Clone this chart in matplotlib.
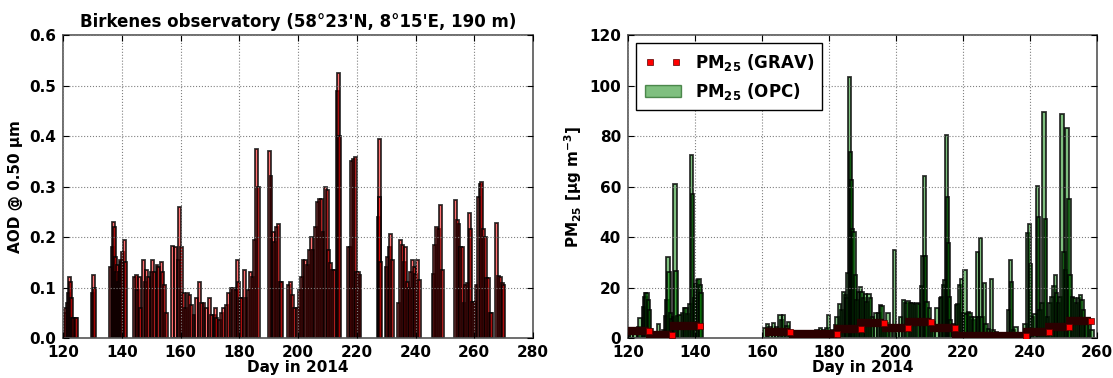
import numpy as np
import matplotlib
matplotlib.use("Agg")
import matplotlib.pyplot as plt

plt.rcParams["font.family"] = "DejaVu Sans"
plt.rcParams["font.weight"] = "bold"
plt.rcParams["axes.labelweight"] = "bold"
plt.rcParams["mathtext.fontset"] = "custom"
plt.rcParams["mathtext.rm"] = "DejaVu Sans:bold"
plt.rcParams["mathtext.it"] = "DejaVu Sans:bold"
plt.rcParams["mathtext.bf"] = "DejaVu Sans:bold"

# AOD at 500 nm, Birkenes (day of year, value)
aod_day = [120.7, 121.0, 121.4, 121.8, 122.2, 122.5, 122.9, 123.3, 123.7, 124.2, 124.6,
           130.1, 130.5, 130.8,
           136.3, 136.7, 137.1, 137.4, 137.8, 138.2, 138.5, 139.0, 139.3, 139.6, 140.0, 140.4, 140.8, 141.2,
           144.2, 144.9, 145.4, 146.0, 146.5, 147.3, 148.0, 148.5, 149.2, 150.0, 150.6, 151.3, 152.0, 152.6,
           153.4, 153.9, 154.7, 155.3,
           157.3, 158.3, 159.3, 159.8, 160.4, 161.0, 161.6, 162.4, 163.0, 163.8, 164.6, 165.5, 166.4, 167.2,
           168.0, 168.9, 169.8, 170.6, 171.5, 171.9, 172.4, 173.2, 173.9, 174.7, 175.5, 176.4, 177.2, 178.1,
           178.7, 179.3, 179.8, 180.4, 180.9, 181.7, 182.3, 183.0, 183.8, 184.5, 185.1, 185.9, 186.4,
           190.2, 190.8, 191.5, 192.0, 192.8, 193.4, 194.0, 194.3,
           196.8, 197.5, 198.2, 198.9, 199.7, 200.5, 201.2, 201.7, 202.5, 203.2, 203.9, 204.5, 205.1, 205.9,
           206.6, 207.3, 208.0, 208.5, 209.3, 209.9, 210.4, 211.1, 211.8, 212.3,
           213.4, 213.7, 214.0,
           217.2, 217.8, 218.3, 218.9, 219.5, 220.0, 220.6, 221.1,
           227.3, 227.6, 227.9, 228.2,
           230.2, 230.6, 231.2, 231.5, 232.1,
           234.3, 234.9, 235.5, 236.1, 236.6, 237.2, 237.8, 238.3, 238.9, 239.5, 240.0, 240.7, 241.2,
           246.1, 246.5, 247.2, 247.9, 248.6, 249.1,
           253.7, 254.3, 254.8, 255.4, 256.0, 256.5, 257.1, 257.7, 258.3, 258.8, 259.4, 260.0, 260.6, 261.3,
           262.0, 262.5, 263.1, 263.7, 264.2, 264.8, 265.4, 266.0, 267.6, 268.2, 268.8, 269.5, 270.1]
aod_val = [0.05, 0.06, 0.07, 0.09, 0.12, 0.11, 0.08, 0.04, 0.04, 0.04, 0.04,
           0.09, 0.125, 0.10,
           0.14, 0.18, 0.23, 0.22, 0.16, 0.13, 0.145, 0.11, 0.13, 0.155, 0.15, 0.17, 0.195, 0.15,
           0.12, 0.125, 0.095, 0.12, 0.06, 0.155, 0.11, 0.135, 0.12, 0.13, 0.155, 0.13, 0.145, 0.14,
           0.15, 0.13, 0.105, 0.05,
           0.183, 0.18, 0.155, 0.26, 0.18, 0.09, 0.06, 0.09, 0.085, 0.065, 0.045, 0.08, 0.11, 0.07,
           0.07, 0.06, 0.08, 0.045, 0.045, 0.06, 0.04, 0.035, 0.05, 0.06, 0.065, 0.09, 0.10, 0.10,
           0.095, 0.155, 0.11, 0.08, 0.08, 0.135, 0.08, 0.095, 0.13, 0.12, 0.195, 0.375, 0.30,
           0.37, 0.32, 0.21, 0.19, 0.22, 0.225, 0.11, 0.11,
           0.105, 0.11, 0.085, 0.06, 0.06, 0.095, 0.12, 0.155, 0.155, 0.145, 0.174, 0.20, 0.175, 0.22,
           0.27, 0.275, 0.275, 0.21, 0.30, 0.293, 0.175, 0.148, 0.135, 0.135,
           0.49, 0.525, 0.40,
           0.18, 0.18, 0.35, 0.355, 0.358, 0.13, 0.13, 0.125,
           0.24, 0.394, 0.28, 0.15,
           0.14, 0.16, 0.18, 0.205, 0.155,
           0.07, 0.195, 0.185, 0.15, 0.18, 0.11, 0.10, 0.13, 0.155, 0.14, 0.127, 0.155, 0.115,
           0.127, 0.185, 0.22, 0.215, 0.264, 0.135,
           0.273, 0.233, 0.225, 0.18, 0.18, 0.07, 0.105, 0.108, 0.248, 0.215, 0.072, 0.072, 0.105, 0.28,
           0.305, 0.308, 0.215, 0.20, 0.118, 0.118, 0.05, 0.05, 0.228, 0.122, 0.12, 0.108, 0.105]

# PM2.5 from optical particle counter
opc_day = [120.1, 121.1, 122.1, 123.1, 123.6, 124.6, 125.1, 125.3, 125.7, 126.1, 126.5, 127.1, 128.1,
           129.1, 129.6, 130.0, 130.8, 131.4, 131.7, 132.0, 132.3, 132.7, 133.0, 133.5, 134.0, 134.3,
           134.8, 135.5, 136.2, 136.8, 137.3, 137.8, 138.5, 139.0, 139.3, 139.8, 140.2, 140.8, 141.2,
           141.6, 141.8,
           160.9, 161.7, 162.4, 163.4, 164.4, 165.4, 165.9, 166.5, 167.5, 168.0, 168.5, 169.5, 171.0,
           172.4, 173.9, 175.4, 176.4, 177.4, 178.4, 179.4, 179.9, 180.9, 181.9, 182.4, 183.1, 183.7,
           184.4, 184.9, 185.4, 185.7, 186.2, 186.5, 186.7, 187.1, 187.5, 187.9, 188.4, 188.9, 189.4,
           189.9, 190.4, 190.9, 191.4, 191.9, 192.4, 192.9, 193.9, 194.9, 195.3, 195.8, 196.4, 197.0,
           197.6, 198.3, 199.5, 200.3, 201.3, 202.3, 203.0, 203.6, 204.3, 205.0, 205.6, 206.3, 206.8,
           207.6, 208.1, 208.5, 208.9, 209.3, 210.0, 210.6, 211.3, 212.3, 213.3, 213.6, 214.1, 214.6,
           215.1, 215.4, 215.6, 215.9, 216.3, 217.1, 217.6, 218.1, 218.5, 219.0, 219.6, 220.1, 220.6,
           220.9, 221.6, 222.1, 222.6, 223.1, 223.6, 224.3, 224.7, 225.3, 225.7, 226.4, 226.9, 227.6,
           228.6, 229.1, 230.1, 231.1, 232.1, 233.0, 233.5, 234.2, 234.5, 235.0, 235.8, 236.5, 237.5,
           238.5, 239.2, 239.8, 240.2, 240.8, 241.5, 242.2, 242.6, 243.0, 243.6, 244.2, 244.7, 245.2,
           246.0, 246.6, 247.2, 247.6, 248.0, 248.5, 249.0, 249.6, 250.2, 250.6, 251.1, 251.6, 252.0,
           252.6, 253.2, 253.8, 254.5, 255.0, 255.5, 256.0, 256.5, 257.0, 257.7, 258.5]
opc_val = [3.2, 2.5, 2.5, 4.5, 7.8, 12.4, 16.4, 17.7, 17.7, 15, 11, 3.5, 2.5,
           5.7, 2.5, 2.0, 3, 8.8, 15, 32, 26, 10, 7.5, 8.5, 60.9, 26.6,
           8.8, 9, 10, 12, 12, 9.4, 13.5, 72.5, 57, 16, 21.4, 23, 23.3,
           21, 18,
           4, 5.5, 4.5, 6, 4.5, 9, 7, 9.1, 4.6, 6.5, 2.5, 1.5, 1.2,
           1.2, 1.5, 2, 3.3, 4, 3.3, 4, 9, 3.3, 5, 8.4, 13.5, 11,
           18.2, 17, 16, 25.7, 103.5, 73.8, 62.7, 43, 42, 25, 15, 18.2, 20.2,
           18.2, 16, 17.4, 14.1, 17.4, 16, 8.4, 10, 10, 13, 12.6, 6.5, 5.9,
           10, 5.3, 34.9, 5.3, 8.4, 15.2, 14, 14.7, 14, 14, 13.3, 14, 13.3,
           20.4, 32.3, 64.3, 32.3, 14.1, 12, 6.5, 6.5, 12, 16, 16.4, 21, 22.9,
           80.5, 56, 37.5, 16.4, 7.2, 5.7, 5, 13, 13.5, 21, 23.3, 10, 26.8,
           9.4, 10.3, 10, 8.4, 7.2, 8.4, 34.2, 8.4, 39.8, 8.4, 21.9, 5.7, 3.6,
           23.3, 3, 2.5, 1.8, 1.5, 1.5, 11.2, 31, 22, 3, 4.4, 1.2, 1.2,
           5.7, 41.5, 45.3, 29.4, 8.4, 9.4, 60.2, 48, 11.2, 13.7, 89.6, 47, 8.4,
           13.7, 16.4, 20.4, 25, 17.7, 13.7, 16.4, 88.9, 34, 27, 83.1, 55, 25,
           16.4, 15.8, 13.7, 15.8, 17, 15, 11.2, 7.2, 5.7, 7.2, 3.2]

# PM2.5 gravimetric filter samples (sampling start, sampling end, value)
grav_start = [120.0, 125.3, 132.5, 161.0, 168.0, 181.4, 188.4, 195.8, 202.8, 210.2, 216.6, 237.8, 244.5, 250.7]
grav_end = [126.3, 133.0, 141.5, 168.3, 182.4, 189.6, 196.3, 203.6, 210.5, 217.6, 238.8, 245.8, 251.7, 258.2]
grav_val = [2.9, 1.2, 4.8, 2.4, 1.5, 3.6, 5.8, 3.8, 6.5, 4.1, 0.6, 2.3, 4.3, 6.9]

fig = plt.figure(figsize=(11.13, 3.78), dpi=100)
ax1 = fig.add_axes([0.0566, 0.1058, 0.4223, 0.8016])
ax2 = fig.add_axes([0.5642, 0.1058, 0.4214, 0.8016])

ax1.bar(aod_day, aod_val, width=1.0, facecolor=(1, 0, 0, 0.55),
        edgecolor=(0, 0, 0, 0.8), linewidth=1.3)
ax1.set_xlim(120, 280)
ax1.set_ylim(0, 0.6)
ax1.set_xticks(np.arange(120, 281, 20))
ax1.set_yticks(np.arange(0, 0.61, 0.1))
ax1.set_yticklabels(["%.1f" % v for v in np.arange(0, 0.61, 0.1)])
ax1.set_xlabel("Day in 2014", fontsize=11, labelpad=0)
ax1.set_ylabel("AOD @ 0.50 μm", fontsize=11)
ax1.set_title("Birkenes observatory (58°23'N, 8°15'E, 190 m)", fontsize=12, fontweight="bold")

bars = ax2.bar(opc_day, opc_val, width=1.0, facecolor=(0, 0.5, 0, 0.5),
               edgecolor=(0, 0, 0, 0.8), linewidth=1.3)
ax2.hlines(grav_val, grav_start, grav_end, colors="#2b0000", linewidth=6, zorder=3)
pts, = ax2.plot(grav_end, grav_val, "s", color="red", markersize=5, markeredgecolor="#550000",
                markeredgewidth=0.5, linestyle="none", zorder=4)
ax2.set_xlim(120, 260)
ax2.set_ylim(0, 120)
ax2.set_xticks(np.arange(120, 261, 20))
ax2.set_yticks(np.arange(0, 121, 20))
ax2.set_xlabel("Day in 2014", fontsize=11, labelpad=0)
ax2.set_ylabel("PM$_{25}$ [μg m$^{-3}$]", fontsize=11)

leg = ax2.legend([pts, bars], ["PM$_{25}$ (GRAV)", "PM$_{25}$ (OPC)"], loc="upper left",
                 numpoints=2, fontsize=12, fancybox=False, framealpha=1, edgecolor="black",
                 handlelength=2.2, borderpad=0.5)
leg.get_frame().set_linewidth(1.0)
leg.legend_handles[1].set_edgecolor((0, 0.3, 0, 0.6))
leg.legend_handles[1].set_linewidth(1.0)

for ax in (ax1, ax2):
    ax.grid(True, linestyle=":", color="gray", linewidth=0.8)
    ax.set_axisbelow(False)
    ax.tick_params(direction="in", top=True, right=True, labelsize=11, length=4)
    ax.tick_params(axis="x", pad=5)
    ax.tick_params(axis="y", pad=5)
    for s in ax.spines.values():
        s.set_color("#555555")
        s.set_linewidth(1.2)

fig.savefig("out.png", dpi=100)
